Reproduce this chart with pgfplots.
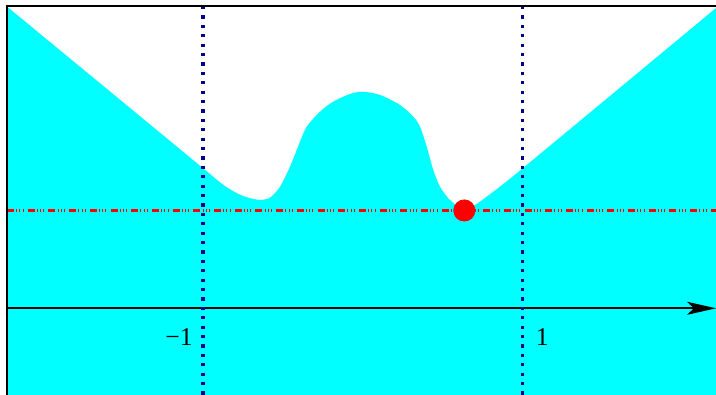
\documentclass[border=0pt]{standalone}
\usepackage{fontspec}
\setmainfont{Liberation Serif}
\usepackage{pgfplots}
\usepackage{pgfplotstable}
\pgfplotsset{compat=1.18}
\usepgfplotslibrary{fillbetween}
\usetikzlibrary{arrows.meta}
\definecolor{dotblue}{RGB}{0,0,140}
\definecolor{aqua}{RGB}{0,255,255}

\pgfplotstableread{
x y
-2.2247 1.888
-1.600 1.373
-1.000 0.878
-0.950 0.836
-0.900 0.795
-0.850 0.758
-0.800 0.728
-0.750 0.704
-0.700 0.688
-0.641 0.678
-0.600 0.684
-0.568 0.700
-0.516 0.761
-0.454 0.886
-0.391 1.043
-0.349 1.136
-0.266 1.230
-0.183 1.293
-0.078 1.341
0.000 1.355
0.110 1.335
0.235 1.272
0.318 1.199
0.360 1.136
0.402 1.011
0.443 0.865
0.485 0.761
0.537 0.688
0.580 0.650
0.637 0.612
0.700 0.645
0.735 0.667
0.860 0.761
1.000 0.874
1.600 1.371
2.2122 1.879
}\curvedata

\begin{document}
\begin{tikzpicture}
\begin{axis}[
  scale only axis, width=354.5pt, height=194.5pt,
  xmin=-2.2247, xmax=2.2122, ymin=-0.5426, ymax=1.8917,
  axis lines=none, clip=false,
]
\addplot[name path=curve, draw=none, smooth, tension=0.5] table {\curvedata};
\path[name path=bottom] (axis cs:-2.2247,-0.5426) -- (axis cs:2.2122,-0.5426);
\addplot[aqua, draw=none] fill between[of=curve and bottom];
\addplot[red, line width=1.1pt, dash pattern=on 3.5pt off 1.1pt on 0.5pt off 1.1pt on 0.5pt off 1.1pt on 0.5pt off 2.05pt] coordinates {(-2.2247,0.612) (2.2122,0.612)};
\addplot[black, line width=0.9pt, -{Stealth[length=14.5pt,width=6.5pt,inset=3.5pt]}] coordinates {(-2.2247,0) (2.2122,0)};
\addplot[dotblue, line width=1.8pt, dash pattern=on 1.6pt off 3.1pt] coordinates {(-1,1.8917) (-1,-0.5426)};
\addplot[dotblue, line width=1.8pt, dash pattern=on 1.6pt off 3.1pt] coordinates {(1,1.8917) (1,-0.5426)};
\addplot[only marks, mark=*, mark size=5.3pt, red] coordinates {(0.637,0.612)};
\node[anchor=east, inner sep=0pt, font=\fontsize{12.8}{15}\selectfont] at (axis cs:-1.061,-0.18) {−1};
\node[anchor=west, inner sep=0pt, font=\fontsize{12.8}{15}\selectfont] at (axis cs:1.083,-0.18) {1};
\draw[line width=1pt] (rel axis cs:0,0) -- (rel axis cs:0,1) -- (rel axis cs:1,1);
\coordinate (tl) at (rel axis cs:0,1);
\coordinate (br) at (rel axis cs:1,0);
\end{axis}
\pgfresetboundingbox
\path (tl) ++(-3.5pt,3pt) rectangle (br);
\end{tikzpicture}
\end{document}
